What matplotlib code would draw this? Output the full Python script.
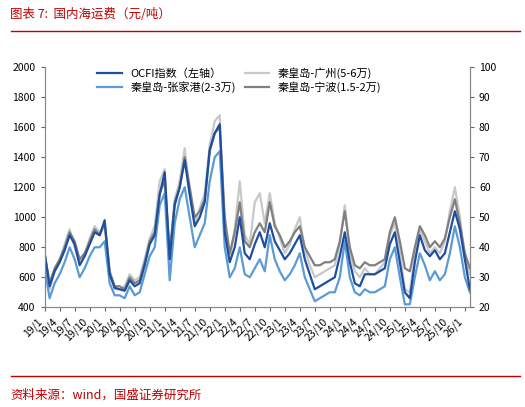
import matplotlib.pyplot as plt
import numpy as np

plt.rcParams['font.family'] = ['Noto Sans CJK SC', 'DejaVu Sans']

# monthly values, 2019-01 .. 2026-02
ningbo = [38, 28, 33, 36, 40, 45, 42, 36, 38, 42, 46, 44,
          48, 32, 27, 27, 26, 30, 28, 29, 35, 42, 45, 58,
          62, 38, 55, 60, 70, 60, 50, 52, 56, 72, 78, 80,
          50, 38, 45, 55, 42, 40, 45, 48, 45, 55, 47, 44,
          40, 42, 45, 47, 40, 37, 34, 34, 35, 35, 36, 42,
          52, 40, 34, 33, 35, 34, 34, 35, 36, 45, 50, 42,
          33, 32, 40, 47, 44, 40, 42, 40, 43, 50, 56, 48,
          38, 33]
guangzhou = [37, 26, 32, 35, 41, 46, 40, 35, 37, 43, 47, 45,
             47, 31, 26, 26, 27, 31, 29, 30, 36, 43, 47, 62,
             66, 36, 56, 62, 73, 58, 48, 53, 58, 74, 82, 84,
             48, 36, 46, 62, 44, 41, 55, 58, 48, 58, 48, 43,
             38, 41, 46, 50, 39, 34, 30, 31, 32, 33, 34, 41,
             54, 38, 32, 30, 33, 31, 31, 33, 35, 44, 48, 38,
             26, 25, 38, 46, 42, 38, 40, 38, 42, 52, 60, 50,
             36, 31]
zjg = [33, 23, 28, 31, 35, 40, 36, 30, 33, 37, 40, 40,
       42, 28, 24, 24, 23, 27, 24, 25, 31, 37, 40, 54,
       58, 29, 48, 56, 60, 50, 40, 44, 48, 62, 70, 72,
       40, 30, 33, 40, 31, 30, 33, 36, 32, 44, 36, 32,
       29, 31, 34, 38, 30, 26, 22, 23, 24, 25, 25, 30,
       42, 30, 25, 24, 26, 25, 25, 26, 27, 36, 40, 30,
       21, 21, 30, 38, 34, 29, 32, 29, 31, 38, 47, 40,
       30, 25]
ocfi = [760, 540, 640, 700, 780, 880, 820, 680, 740, 820, 900, 880,
        980, 620, 530, 520, 510, 580, 540, 560, 680, 820, 880, 1150,
        1300, 720, 1080, 1200, 1380, 1150, 940, 1000, 1100, 1450, 1560, 1620,
        900, 700, 800, 1000, 760, 720, 820, 900, 800, 960, 840, 780,
        720, 760, 820, 880, 720, 620, 520, 540, 560, 580, 600, 740,
        900, 700, 560, 540, 620, 620, 620, 640, 660, 820, 900, 700,
        500, 460, 700, 880, 780, 740, 780, 720, 760, 900, 1040, 920,
        720, 520]

x = np.arange(len(ocfi))
tick_labels = []
for y in range(19, 27):
    for m in (1, 4, 7, 10):
        if y == 26 and m > 1:
            break
        tick_labels.append(f"{y}/{m}")
tick_pos = np.arange(0, len(tick_labels) * 3, 3)

fig = plt.figure(figsize=(5.25, 4.07), dpi=100)
ax = fig.add_axes([0.085, 0.245, 0.81, 0.59])
ax2 = ax.twinx()

ax2.plot(x, guangzhou, color='#c8c8c8', lw=1.6, label='秦皇岛-广州(5-6万)')
ax2.plot(x, ningbo, color='#808080', lw=1.6, label='秦皇岛-宁波(1.5-2万)')
ax2.plot(x, zjg, color='#5b9bd5', lw=1.6, label='秦皇岛-张家港(2-3万)')
ax.plot(x, ocfi, color='#1f4e9e', lw=1.6, label='OCFI指数（左轴）')
ax.set_zorder(ax2.get_zorder() + 1)
ax.patch.set_visible(False)

ax.set_ylim(400, 2000)
ax.set_yticks(range(400, 2001, 200))
ax2.set_ylim(20, 100)
ax2.set_yticks(range(20, 101, 10))
ax.set_xlim(0, len(x) - 1)
ax.set_xticks(tick_pos)
ax.set_xticklabels(tick_labels, rotation=45, ha='right', fontsize=7)
for a in (ax, ax2):
    a.tick_params(labelsize=7.5, length=3, color='#666666')
    for s in a.spines.values():
        s.set_color('#888888')
    a.spines['top'].set_visible(False)

h1, l1 = ax.get_legend_handles_labels()
h2, l2 = ax2.get_legend_handles_labels()
# ncol=2 fills column-wise: OCFI, 张家港 | 广州, 宁波
handles = [h1[0], h2[2], h2[0], h2[1]]
labels = [l1[0], l2[2], l2[0], l2[1]]
ax.legend(handles, labels, ncol=2, loc='upper left', bbox_to_anchor=(0.1, 1.04),
          frameon=False, fontsize=8, handlelength=2.2, columnspacing=0.8,
          labelspacing=0.2)

fig.text(0.02, 0.955, '图表 7:  国内海运费（元/吨）', fontsize=9, color='#c00000', style='italic')
fig.add_artist(plt.Line2D([0.02, 0.99], [0.925, 0.925], color='#c00000', lw=1))
fig.add_artist(plt.Line2D([0.02, 0.99], [0.075, 0.075], color='#c00000', lw=1))
fig.text(0.02, 0.02, '资料来源：wind，国盛证券研究所', fontsize=9, color='#c00000', style='italic')

fig.savefig('out.png', dpi=100)
